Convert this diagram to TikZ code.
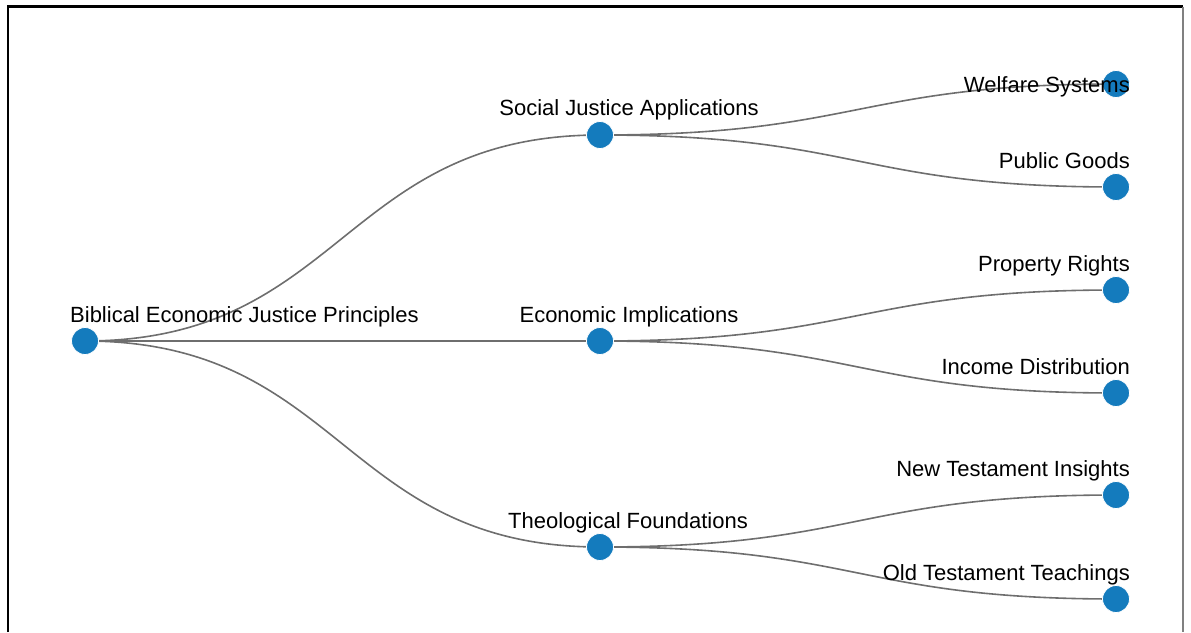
\documentclass[tikz,border=0pt]{standalone}
\usepackage{fontspec}
\setmainfont{Liberation Sans}
\definecolor{nodeblue}{RGB}{20,123,189}
\definecolor{edgegray}{RGB}{110,110,110}
\begin{document}
\begin{tikzpicture}[x=1pt,y=-1pt,
  dot/.style={circle,fill=nodeblue,draw=white,line width=0.8pt,minimum size=27pt,inner sep=0pt},
  lbl/.style={font=\fontsize{22}{24}\selectfont,text=black,inner sep=0pt},
  link/.style={draw=edgegray,line width=1.6pt}]
\useasboundingbox (0,0) rectangle (1191,632);
% frame
\draw[black,line width=2.6pt] (8,632) -- (8,6.5) -- (1183,6.5);
\draw[gray,line width=1.6pt] (1183,6.5) -- (1183,632);
% node coordinates
\coordinate (r) at (85,341);
\coordinate (s) at (600,135);
\coordinate (e) at (600,341);
\coordinate (t) at (600,547);
\coordinate (w) at (1116,84);
\coordinate (p) at (1116,187);
\coordinate (pr) at (1116,290);
\coordinate (i) at (1116,393);
\coordinate (n) at (1116,495);
\coordinate (o) at (1116,599);
% links
\draw[link] (r) .. controls (342.5,341) and (342.5,135) .. (s);
\draw[link] (r) -- (e);
\draw[link] (r) .. controls (342.5,341) and (342.5,547) .. (t);
\draw[link] (s) .. controls (858,135) and (858,84) .. (w);
\draw[link] (s) .. controls (858,135) and (858,187) .. (p);
\draw[link] (e) .. controls (858,341) and (858,290) .. (pr);
\draw[link] (e) .. controls (858,341) and (858,393) .. (i);
\draw[link] (t) .. controls (858,547) and (858,495) .. (n);
\draw[link] (t) .. controls (858,547) and (858,599) .. (o);
% nodes
\node[dot] (rn) at (r) {};
\node[dot] (sn) at (s) {};
\node[dot] (en) at (e) {};
\node[dot] (tn) at (t) {};
\node[dot] (wn) at (w) {};
\node[dot] (pn) at (p) {};
\node[dot] (prn) at (pr) {};
\node[dot] (in) at (i) {};
\node[dot] (nn) at (n) {};
\node[dot] (on) at (o) {};
% labels
\node[lbl,anchor=base west] (rl) at (70,322) {Biblical Economic Justice Principles};
\node[lbl,anchor=base] (sl) at (629,115) {Social Justice Applications};
\node[lbl,anchor=base] (el) at (629,322) {Economic Implications};
\node[lbl,anchor=base] (tl) at (628,528) {Theological Foundations};
\node[lbl,anchor=base east] (wl) at (1130,92) {Welfare Systems};
\node[lbl,anchor=base east] (pl) at (1130,168) {Public Goods};
\node[lbl,anchor=base east] (prl) at (1130,271) {Property Rights};
\node[lbl,anchor=base east] (il) at (1130,374) {Income Distribution};
\node[lbl,anchor=base east] (nl) at (1130,476) {New Testament Insights};
\node[lbl,anchor=base east] (ol) at (1130,580) {Old Testament Teachings};
\end{tikzpicture}
\end{document}
